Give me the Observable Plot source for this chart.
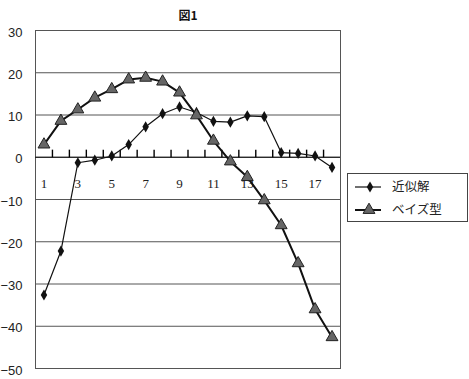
<!DOCTYPE html>
<html><head><meta charset="utf-8">
<script src="https://cdn.jsdelivr.net/npm/d3@7"></script>
<script src="https://cdn.jsdelivr.net/npm/@observablehq/plot@0.6"></script>
<style>
body{margin:0;background:#fff;}
#wrap{position:relative;width:469px;height:379px;}
#legend{position:absolute;left:347px;top:173px;width:119px;height:47px;border:1px solid #444;background:#fff;font-family:"Noto Sans CJK JP",sans-serif;font-size:12px;}
</style>
</head><body>
<div id="wrap"></div>
<script>
const categories = [1,2,3,4,5,6,7,8,9,10,11,12,13,14,15,16,17,18];
const approx = [-32.6,-22.2,-1.3,-0.7,0.3,3.0,7.2,10.3,11.9,10.6,8.5,8.3,9.8,9.6,1.1,0.9,0.3,-2.4];
const bayes = [3.0,8.6,11.3,14.1,16.1,18.4,18.8,17.9,15.3,9.9,3.9,-1.0,-4.7,-10.2,-16.1,-25.1,-36.0,-42.6];
const xTickLabels = [1,3,5,7,9,11,13,15,17];
const yTicks = [30,20,10,0,-10,-20,-30,-40,-50];
const seriesNames = ["近似解","ベイズ型"];
const title = "図1";

const approxData = categories.map((c,i)=>({x:c,y:approx[i]}));
const bayesData = categories.map((c,i)=>({x:c,y:bayes[i]}));
const tickData = categories.slice(0,-1).map(c=>({x:c+0.5, y1:0, y2:1.8}));
const labelData = xTickLabels.map(c=>({x:c, y:0, t:String(c)}));

const chart = Plot.plot({
  width:469, height:379,
  marginLeft:35, marginRight:129, marginTop:30, marginBottom:11,
  style:{fontFamily:"'Liberation Sans',sans-serif", background:"#fff"},
  x:{domain:[0.5,18.5], axis:null},
  y:{domain:[-50,30], axis:null},
  marks:[
    Plot.gridY(yTicks,{stroke:"#555", strokeOpacity:1, strokeWidth:1}),
    Plot.frame({stroke:"#555"}),
    Plot.ruleY([0],{stroke:"#111"}),
    Plot.link(tickData,{x1:"x", x2:"x", y1:"y1", y2:"y2", stroke:"#000", strokeWidth:1.4, strokeOpacity:1}),
    Plot.axisY(yTicks,{tickSize:0, tickPadding:13, fontSize:13, fill:"#222", label:null,
      tickFormat:d=> d<0 ? "−" + Math.abs(d) : String(d), dy:2}),
    Plot.text(labelData,{x:"x", y:"y", dy:27, text:"t", fontSize:13,
      fontFamily:"'Liberation Serif',serif", fill:"#222"}),
    Plot.line(approxData,{x:"x", y:"y", stroke:"#111", strokeWidth:1.2}),
    Plot.dot(approxData,{x:"x", y:"y", symbol:"diamond", r:3.4, fill:"#111"}),
    Plot.line(bayesData,{x:"x", y:"y", stroke:"#111", strokeWidth:2}),
    Plot.dot(bayesData,{x:"x", y:"y", symbol:"triangle", r:4.4, fill:"#666", stroke:"#222", strokeWidth:1}),
    Plot.text([title],{frameAnchor:"top", dy:-19, text:d=>d, fontSize:12, fontWeight:"bold",
      fontFamily:"'Noto Sans CJK JP',sans-serif", fill:"#111"})
  ]
});
document.getElementById("wrap").appendChild(chart);

const legend = document.createElement("div");
legend.id = "legend";
legend.innerHTML = `
<svg width="119" height="47" style="position:absolute;left:0;top:0">
  <line x1="7" x2="33" y1="13" y2="13" stroke="#111" stroke-width="1.2"/>
  <path transform="translate(22,13)" d="${d3.symbol(d3.symbolDiamond, Math.PI*3.4*3.4)()}" fill="#111"/>
  <text x="44" y="13" dy="0.35em" font-size="12.5" fill="#222">${seriesNames[0]}</text>
  <line x1="7" x2="33" y1="36" y2="36" stroke="#111" stroke-width="2"/>
  <path transform="translate(21,36)" d="${d3.symbol(d3.symbolTriangle, Math.PI*4.4*4.4)()}" fill="#666" stroke="#222"/>
  <text x="44" y="36" dy="0.35em" font-size="12.5" fill="#222">${seriesNames[1]}</text>
</svg>`;
document.getElementById("wrap").appendChild(legend);
</script>
</body></html>
